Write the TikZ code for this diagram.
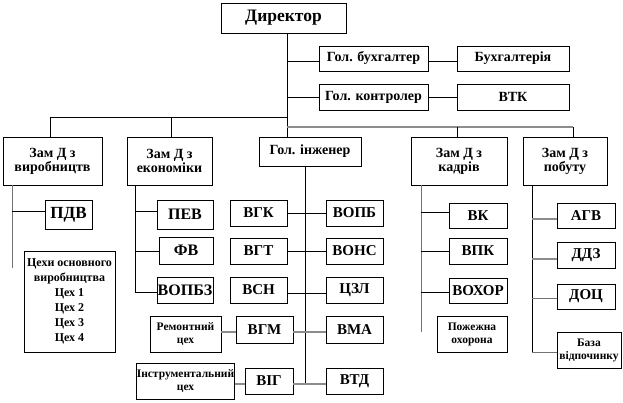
\documentclass[tikz,border=0pt]{standalone}
\usepackage{fontspec}
\setmainfont{Liberation Serif}
\begin{document}
\begin{tikzpicture}[x=1pt,y=-1pt,
  box/.style={draw=black,line width=0.9pt,inner sep=0pt,align=center,font=\bfseries\fontsize{14}{14}\selectfont,fill=white},
  sbox/.style={box,font=\bfseries\fontsize{15}{15}\selectfont},
  tbox/.style={box,font=\bfseries\fontsize{11.5}{13}\selectfont},
  ln/.style={line width=0.9pt,draw=black},
  gln/.style={line width=1.6pt,draw=black!45},
  dgln/.style={line width=1pt,draw=black!55}]
\useasboundingbox (0,0) rectangle (623,403);
\fill[white] (0,0) rectangle (623,403);
% nodes
\node[box,font=\bfseries\fontsize{17.5}{17.5}\selectfont,minimum width=125pt,minimum height=30pt] (dir) at (283.5,18) {Директор};
\node[box,minimum width=109pt,minimum height=25pt] (gb) at (373.5,58.5) {Гол. бухгалтер};
\node[box,minimum width=112pt,minimum height=25pt] (buh) at (513,58.5) {Бухгалтерія};
\node[box,minimum width=109pt,minimum height=26pt] (gk) at (373.5,97) {Гол. контролер};
\node[box,minimum width=112pt,minimum height=26pt] (vtk) at (513,97) {ВТК};
\node[box,minimum width=99pt,minimum height=48pt] (zv) at (52.5,161) {Зам Д з\\виробництв};
\node[box,minimum width=85pt,minimum height=48pt] (ze) at (169.5,161) {Зам Д з\\економіки};
\node[box,minimum width=102pt,minimum height=29pt] (gi) at (310,151.5) {Гол. інженер};
\node[box,minimum width=96pt,minimum height=48pt] (zk) at (459,161) {Зам Д з\\кадрів};
\node[box,minimum width=84pt,minimum height=48pt] (zp) at (565,161) {Зам Д з\\побуту};
% column 1
\node[sbox,font=\bfseries\fontsize{17}{17}\selectfont,minimum width=47pt,minimum height=29pt] (pdv) at (68.5,214.5) {ПДВ};
\node[tbox,font=\bfseries\fontsize{12}{15}\selectfont,minimum width=91pt,minimum height=101pt] (tsekhy) at (69.5,301.5) {Цехи основного\\виробництва\\Цех 1\\Цех 2\\Цех 3\\Цех 4};
% column 2
\node[sbox,font=\bfseries\fontsize{16}{16}\selectfont,minimum width=56pt,minimum height=29pt] (pev) at (185,214.5) {ПЕВ};
\node[sbox,font=\bfseries\fontsize{16}{16}\selectfont,minimum width=54pt,minimum height=27pt] (fv) at (186,250.5) {ФВ};
\node[sbox,font=\bfseries\fontsize{16}{16}\selectfont,minimum width=56pt,minimum height=26pt] (vopbz) at (185,290) {ВОПБЗ};
\node[tbox,minimum width=71pt,minimum height=36pt] (rem) at (185.5,334) {Ремонтний\\цех};
\node[tbox,minimum width=91pt,minimum height=36pt] (instr) at (185.5,381) {Інструментальний\\цех};
% column 3
\node[sbox,minimum width=57pt,minimum height=26pt] (vgk) at (258.5,213) {ВГК};
\node[sbox,minimum width=57pt,minimum height=26pt] (vgt) at (258.5,251) {ВГТ};
\node[sbox,minimum width=57pt,minimum height=26pt] (vsn) at (258.5,290) {ВСН};
\node[sbox,minimum width=57pt,minimum height=27pt] (vgm) at (264.5,329.5) {ВГМ};
\node[sbox,minimum width=48pt,minimum height=26pt] (vig) at (269,381) {ВІГ};
\node[sbox,minimum width=57pt,minimum height=26pt] (vopb) at (354.5,213) {ВОПБ};
\node[sbox,minimum width=57pt,minimum height=26pt] (vons) at (354.5,251) {ВОНС};
\node[sbox,minimum width=57pt,minimum height=26pt] (tszl) at (354.5,290) {ЦЗЛ};
\node[sbox,minimum width=57pt,minimum height=27pt] (vma) at (354.5,329.5) {ВМА};
\node[sbox,minimum width=57pt,minimum height=26pt] (vtd) at (354.5,381) {ВТД};
% column 4
\node[sbox,minimum width=58pt,minimum height=25pt] (vk) at (478,215.5) {ВК};
\node[sbox,minimum width=58pt,minimum height=26pt] (vpk) at (478,251) {ВПК};
\node[sbox,minimum width=58pt,minimum height=25pt] (vokhor) at (478,290.5) {ВОХОР};
\node[tbox,minimum width=70pt,minimum height=36pt] (pozh) at (472,334) {Пожежна\\охорона};
% column 5
\node[sbox,minimum width=58pt,minimum height=25pt] (agv) at (586,215.5) {АГВ};
\node[sbox,minimum width=58pt,minimum height=26pt] (ddz) at (586,255) {ДДЗ};
\node[sbox,minimum width=58pt,minimum height=25pt] (dots) at (586,296.5) {ДОЦ};
\node[tbox,minimum width=64pt,minimum height=36pt] (baza) at (589,350) {База\\відпочинку};
% coordinates
\coordinate (dtop) at (287,33);
\coordinate (h1) at (287,117);
\coordinate (h1l) at (50,117);
\coordinate (h1m) at (171,117);
\coordinate (h2) at (287,127);
\coordinate (h2r) at (573,127);
\coordinate (h2m) at (457,127);
\coordinate (r1) at (287,61);
\coordinate (r2) at (287,97);
\coordinate (gtop) at (287,137);
% top connectors
\draw[ln] (dtop) -- (gtop);
\draw[ln] (h1l) -- (h1);
\draw[ln] (h1l) -- (h1l |- zv.north);
\draw[ln] (h1m) -- (h1m |- ze.north);
\draw[gln] (h2) -- (h2r);
\draw[ln] (h2m) -- (h2m |- zk.north);
\draw[ln] (h2r) -- (h2r |- zp.north);
\draw[ln] (r1) -- (r1 -| gb.west);
\draw[ln] (r1 -| gb.east) -- (r1 -| buh.west);
\draw[ln] (r2) -- (r2 -| gk.west);
\draw[ln] (r2 -| gk.east) -- (r2 -| vtk.west);
% column 1
\coordinate (c1) at (12,185);
\coordinate (c1b) at (12,268);
\coordinate (c1a) at (12,211);
\draw[dgln] (c1) -- (c1b);
\draw[ln] (c1a) -- (c1a -| pdv.west);
% column 2
\coordinate (c2) at (135,185);
\coordinate (c2a) at (135,211);
\coordinate (c2b) at (135,251);
\coordinate (c2c) at (135,292);
\draw[ln] (c2) -- (c2c) -- (c2c -| vopbz.west);
\draw[ln] (c2a) -- (c2a -| pev.west);
\draw[ln] (c2b) -- (c2b -| fv.west);
% column 3
\coordinate (c3) at (305,166);
\coordinate (c3e) at (305,384);
\draw[ln] (c3) -- (c3e);
\coordinate (c3a) at (305,213);
\coordinate (c3b) at (305,251);
\coordinate (c3c) at (305,293);
\coordinate (c3d) at (305,332);
\draw[ln] (c3a -| vgk.east) -- (c3a -| vopb.west);
\draw[ln] (c3b -| vgt.east) -- (c3b -| vons.west);
\draw[ln] (c3c -| vsn.east) -- (c3c -| tszl.west);
\draw[gln] (c3d -| rem.east) -- (c3d -| vgm.west);
\draw[gln] (c3d -| vgm.east) -- (c3d -| vma.west);
\draw[gln] (c3e -| instr.east) -- (c3e -| vig.west);
\draw[gln] (c3e -| vig.east) -- (c3e -| vtd.west);
% column 4
\coordinate (c4) at (421,185);
\coordinate (c4e) at (421,332);
\coordinate (c4a) at (421,212);
\coordinate (c4b) at (421,251);
\coordinate (c4c) at (421,292);
\draw[dgln] (c4) -- (c4e);
\draw[ln] (c4a) -- (c4a -| vk.west);
\draw[ln] (c4b) -- (c4b -| vpk.west);
\draw[ln] (c4c) -- (c4c -| vokhor.west);
% column 5
\coordinate (c5) at (532,185);
\coordinate (c5e) at (532,352);
\coordinate (c5a) at (532,219);
\coordinate (c5b) at (532,259);
\coordinate (c5c) at (532,298);
\draw[ln] (c5) -- (c5e);
\draw[gln] (c5a) -- (c5a -| agv.west);
\draw[gln] (c5b) -- (c5b -| ddz.west);
\draw[dgln] (c5c) -- (c5c -| dots.west);
\draw[dgln] (c5e) -- (c5e -| baza.west);
\end{tikzpicture}
\end{document}
